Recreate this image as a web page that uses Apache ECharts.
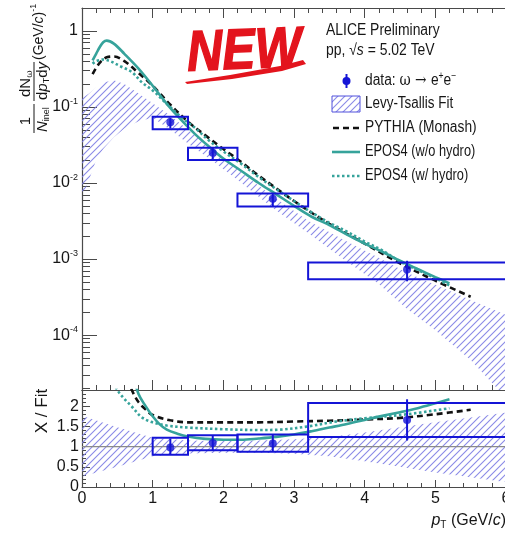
<!DOCTYPE html>
<html>
<head>
<meta charset="utf-8">
<script src="https://cdn.jsdelivr.net/npm/echarts@6/dist/echarts.min.js"></script>
<style>
  html, body { margin: 0; padding: 0; background: #fff; }
  #chart { width: 505px; height: 533px; }
</style>
</head>
<body>
<div id="chart"></div>
<script>
// ---- measured omega -> e+e- spectrum (pT bins, yields, uncertainties) ----
const binLo = [1.0, 1.5, 2.2, 3.2];
const binHi = [1.5, 2.2, 3.2, 6.0];
const omegaPt = [1.25, 1.85, 2.7, 4.6];
const omegaYield = [0.063, 0.025, 0.0062, 0.00073];
const omegaStatLo = [0.052, 0.020, 0.0049, 0.00051];
const omegaStatHi = [0.072, 0.029, 0.0073, 0.00095];
const omegaSysLo = [0.051, 0.0201, 0.0049, 0.000545];
const omegaSysHi = [0.0745, 0.029, 0.0073, 0.000905];

// ---- data / fit ratio ----
const ratioVal = [0.98, 1.09, 1.075, 1.66];
const ratioStatLo = [0.80, 0.91, 0.87, 1.15];
const ratioStatHi = [1.20, 1.28, 1.30, 2.17];
const ratioSysLo = [0.80, 0.91, 0.87, 1.24];
const ratioSysHi = [1.22, 1.28, 1.30, 2.08];

// ---- Levy-Tsallis fit uncertainty band ----
const fitBandPt = [0.0, 0.1, 0.2, 0.3, 0.45, 0.6, 0.8, 1.0, 1.25, 1.5, 1.85, 2.2, 2.7, 3.2, 3.7, 4.2, 4.6, 5.0, 5.5, 6.0];
const fitBandHi = [0.13, 0.15, 0.18, 0.21, 0.225, 0.20, 0.15, 0.112, 0.077, 0.050, 0.027, 0.015, 0.0067, 0.0032, 0.0018, 0.00104, 0.00066, 0.00046, 0.00029, 0.000185];
const fitBandLo = [0.0065, 0.011, 0.02, 0.028, 0.04, 0.052, 0.065, 0.072, 0.05, 0.033, 0.0195, 0.011, 0.0047, 0.0022, 0.001, 0.00047, 0.00022, 0.000116, 0.000047, 0.000015];
const ratioBandPt = [0, 0.5, 1.0, 1.5, 2.0, 2.5, 3.0, 3.5, 4.0, 4.5, 5.0, 5.5, 6.0];
const ratioBandHi = [1.76, 1.48, 1.22, 1.15, 1.14, 1.15, 1.18, 1.24, 1.35, 1.48, 1.60, 1.72, 1.84];
const ratioBandLo = [0.26, 0.50, 0.76, 0.83, 0.85, 0.85, 0.82, 0.76, 0.64, 0.50, 0.36, 0.24, 0.12];

// ---- model predictions ----
const pythiaPt = [0.15, 0.25, 0.35, 0.45, 0.6, 0.8, 1.0, 1.25, 1.5, 1.75, 2.0, 2.25, 2.5, 2.75, 3.0, 3.5, 4.0, 4.5, 5.0, 5.5];
const pythiaY = [0.27, 0.38, 0.45, 0.46, 0.40, 0.28, 0.19, 0.107, 0.064, 0.042, 0.028, 0.019, 0.0125, 0.0085, 0.0058, 0.0029, 0.0016, 0.00088, 0.00052, 0.00032];
const eposPt = [0.15, 0.2, 0.25, 0.3, 0.35, 0.45, 0.6, 0.8, 1.0, 1.2, 1.4, 1.6, 1.8, 2.0, 2.25, 2.5, 2.75, 3.0, 3.25, 3.5, 3.75, 4.0, 4.25, 4.5, 4.75, 5.0, 5.2];
const eposY = [0.41, 0.50, 0.61, 0.71, 0.745, 0.68, 0.50, 0.32, 0.19, 0.11, 0.068, 0.044, 0.030, 0.021, 0.0145, 0.0100, 0.0071, 0.0050, 0.0036, 0.0028, 0.0021, 0.0016, 0.00125, 0.00095, 0.00074, 0.00058, 0.00048];
const eposHydroPt = [0.15, 0.2, 0.3, 0.4, 0.55, 0.7, 0.85, 1.0, 1.2, 1.4, 1.6, 1.8, 2.0, 2.25, 2.5, 2.75, 3.0, 3.25, 3.5, 3.75, 4.0, 4.25, 4.5, 4.75, 5.0, 5.2];
const eposHydroY = [0.37, 0.40, 0.42, 0.40, 0.34, 0.29, 0.21, 0.165, 0.11, 0.074, 0.053, 0.036, 0.026, 0.018, 0.012, 0.0083, 0.0058, 0.0041, 0.0030, 0.0023, 0.0017, 0.0013, 0.00093, 0.00072, 0.00056, 0.00045];

const pythiaRatioPt = [0.6, 0.7, 0.8, 0.9, 1.0, 1.25, 1.5, 2.0, 2.5, 3.0, 3.5, 4.0, 4.5, 5.0, 5.5];
const pythiaRatio = [2.9, 2.42, 2.1, 1.92, 1.78, 1.65, 1.60, 1.60, 1.60, 1.62, 1.64, 1.67, 1.71, 1.80, 1.91];
const eposRatioPt = [0.72, 0.8, 0.9, 1.0, 1.1, 1.2, 1.35, 1.5, 1.75, 2.0, 2.25, 2.5, 2.75, 3.0, 3.25, 3.5, 3.75, 4.0, 4.25, 4.5, 4.75, 5.0, 5.2];
const eposRatio = [2.8, 2.3, 2.0, 1.75, 1.55, 1.42, 1.32, 1.25, 1.19, 1.17, 1.17, 1.20, 1.24, 1.30, 1.38, 1.47, 1.56, 1.66, 1.76, 1.85, 1.95, 2.07, 2.17];
const eposHydroRatioPt = [0.42, 0.5, 0.6, 0.7, 0.85, 1.0, 1.2, 1.5, 2.0, 2.5, 2.8, 3.2, 3.6, 4.0, 4.6, 5.2];
const eposHydroRatio = [2.7, 2.4, 2.18, 2.0, 1.72, 1.60, 1.52, 1.47, 1.43, 1.41, 1.42, 1.50, 1.62, 1.70, 1.80, 1.95];

// ---- axis ticks ----
const xTicks = [0, 1, 2, 3, 4, 5, 6];
const logMajorTicks = [1e-4, 1e-3, 1e-2, 1e-1, 1];
const logDecades = [1e-5, 1e-4, 1e-3, 1e-2, 1e-1, 1];
const logMantissas = [2, 3, 4, 5, 6, 7, 8, 9];
const logMinorTicks = [];
logDecades.forEach(d => logMantissas.forEach(m => logMinorTicks.push(+(m * d).toPrecision(3))));
const ratioTicks = [0, 0.5, 1, 1.5, 2];

// ---- styling ----
const FF = '"Liberation Sans", Arial, Helvetica, sans-serif';
const SERIF = '"DejaVu Serif", "Liberation Serif", serif';
const BLUE = '#1414d6';
const TEAL = '#36a39b';
const FRAME = '#4a4a4a';
const TXT = '#161616';
const STAMP = '#e3141d';

const hatchCanvas = (() => {
  const c = document.createElement('canvas');
  c.width = 7; c.height = 7;
  const g = c.getContext('2d');
  g.strokeStyle = 'rgba(125,125,228,0.9)';
  g.lineWidth = 1.1;
  g.beginPath();
  g.moveTo(-1, 8); g.lineTo(8, -1);
  g.moveTo(-1, 1); g.lineTo(1, -1);
  g.moveTo(6, 8); g.lineTo(8, 6);
  g.stroke();
  return c;
})();
const hatchFill = { image: hatchCanvas, repeat: 'repeat' };

const chart = echarts.init(document.getElementById('chart'), null, { renderer: 'canvas' });

function band(xi, yi, xs, hi, lo) {
  return {
    type: 'custom', xAxisIndex: xi, yAxisIndex: yi, z: 1, silent: true, clip: true,
    data: [[xs[0], hi[0]]],
    renderItem(params, api) {
      const pts = [];
      for (let i = 0; i < xs.length; i++) pts.push(api.coord([xs[i], hi[i]]));
      for (let i = xs.length - 1; i >= 0; i--) pts.push(api.coord([xs[i], lo[i]]));
      const cs = params.coordSys;
      return {
        type: 'polygon', shape: { points: pts },
        style: { fill: hatchFill, stroke: null },
        clipPath: { type: 'rect', shape: { x: cs.x, y: cs.y, width: cs.width, height: cs.height } }
      };
    }
  };
}

function boxes(xi, yi, lo, hi, ylo, yhi) {
  return {
    type: 'custom', xAxisIndex: xi, yAxisIndex: yi, z: 5, silent: true, clip: true,
    encode: { x: [0, 1], y: [2, 3] },
    data: lo.map((v, i) => [v, hi[i], ylo[i], yhi[i]]),
    renderItem(params, api) {
      const a = api.coord([api.value(0), api.value(3)]);
      const b = api.coord([api.value(1), api.value(2)]);
      const cs = params.coordSys;
      return {
        type: 'rect', shape: { x: a[0], y: a[1], width: b[0] - a[0], height: b[1] - a[1] },
        style: { fill: null, stroke: BLUE, lineWidth: 2 },
        clipPath: { type: 'rect', shape: { x: cs.x, y: cs.y, width: cs.width, height: cs.height } }
      };
    }
  };
}

function errBars(xi, yi, xs, lo, hi) {
  return {
    type: 'custom', xAxisIndex: xi, yAxisIndex: yi, z: 6, silent: true,
    encode: { x: 0, y: [1, 2] },
    data: xs.map((v, i) => [v, lo[i], hi[i]]),
    renderItem(params, api) {
      const a = api.coord([api.value(0), api.value(1)]);
      const b = api.coord([api.value(0), api.value(2)]);
      return { type: 'line', shape: { x1: a[0], y1: a[1], x2: b[0], y2: b[1] }, style: { stroke: BLUE, lineWidth: 2 } };
    }
  };
}

function points(xi, yi, xs, ys) {
  return {
    type: 'scatter', xAxisIndex: xi, yAxisIndex: yi, z: 7, silent: true,
    symbol: 'circle', symbolSize: 8, itemStyle: { color: BLUE },
    data: xs.map((v, i) => [v, ys[i]])
  };
}

function curve(xi, yi, xs, ys, color, type, width) {
  return {
    type: 'line', xAxisIndex: xi, yAxisIndex: yi, z: 3, silent: true,
    showSymbol: false, symbol: 'none', smooth: 0.35, clip: true,
    lineStyle: { color, width, type, cap: 'butt' },
    data: xs.map((v, i) => [v, ys[i]])
  };
}

const tickStyle = { color: FRAME, width: 1 };
const lineStyle = { color: FRAME, width: 1.2 };

function xAxisDef(grid, pos, major, minor, labels) {
  return {
    gridIndex: grid, type: 'value', min: 0, max: 6, interval: 1, position: pos,
    axisLine: { show: true, onZero: false, lineStyle },
    axisTick: { show: major > 0, inside: true, length: major, lineStyle: tickStyle },
    minorTick: { show: minor > 0, splitNumber: 5, length: minor, lineStyle: tickStyle },
    axisLabel: labels ? {
      show: true, customValues: xTicks, margin: 4, color: TXT,
      fontFamily: FF, fontSize: 16
    } : { show: false },
    splitLine: { show: false }
  };
}

const option = {
  animation: false,
  backgroundColor: '#fff',
  grid: [
    { left: 82, top: 8, width: 424, height: 382, containLabel: false, outerBoundsMode: 'none' },
    { left: 82, top: 390, width: 424, height: 97, containLabel: false, outerBoundsMode: 'none' }
  ],
  xAxis: [
    xAxisDef(0, 'bottom', 10, 5, false),
    xAxisDef(0, 'top', 10, 5, false),
    xAxisDef(1, 'bottom', 7, 4, true),
    xAxisDef(1, 'top', 0, 0, false)
  ],
  yAxis: [
    {
      gridIndex: 0, type: 'log', logBase: 10, min: 1.9e-5, max: 2, position: 'left',
      axisLine: { show: true, lineStyle },
      axisTick: { show: true, inside: true, length: 15, customValues: logMajorTicks, lineStyle: tickStyle },
      axisLabel: {
        show: true, customValues: logMajorTicks, margin: 4, color: TXT,
        formatter: v => {
          const e = Math.round(Math.log10(v));
          return e === 0 ? '{b|1}' : '{b|10}{s|-' + (-e) + '}';
        },
        rich: {
          b: { fontFamily: FF, fontSize: 16, color: TXT },
          s: { fontFamily: FF, fontSize: 9, color: TXT, padding: [0, 0, 11, 0] }
        }
      },
      splitLine: { show: false }
    },
    {
      gridIndex: 0, type: 'log', logBase: 10, min: 1.9e-5, max: 2, position: 'left',
      axisLine: { show: false },
      axisTick: { show: true, inside: true, length: 8, customValues: logMinorTicks, lineStyle: tickStyle },
      axisLabel: { show: false },
      splitLine: { show: false }
    },
    {
      gridIndex: 1, type: 'value', min: 0, max: 2.4, interval: 0.5, position: 'left',
      axisLine: { show: true, lineStyle },
      axisTick: { show: true, inside: true, length: 8, lineStyle: tickStyle },
      minorTick: { show: true, splitNumber: 5, length: 4, lineStyle: tickStyle },
      axisLabel: {
        show: true, customValues: ratioTicks, margin: 3, color: TXT, fontFamily: FF, fontSize: 16,
        formatter: v => String(v)
      },
      splitLine: { show: false }
    }
  ],
  series: [
    // upper panel: spectrum
    band(0, 0, fitBandPt, fitBandHi, fitBandLo),
    curve(0, 0, pythiaPt, pythiaY, '#111', [6, 4], 2.6),
    curve(0, 0, eposHydroPt, eposHydroY, TEAL, [2.5, 2.5], 2.6),
    curve(0, 0, eposPt, eposY, TEAL, 'solid', 2.6),
    boxes(0, 0, binLo, binHi, omegaSysLo, omegaSysHi),
    errBars(0, 0, omegaPt, omegaStatLo, omegaStatHi),
    points(0, 0, omegaPt, omegaYield),
    // lower panel: ratio to fit
    band(2, 2, ratioBandPt, ratioBandHi, ratioBandLo),
    {
      type: 'line', xAxisIndex: 2, yAxisIndex: 2, z: 2, silent: true, symbol: 'none',
      lineStyle: { color: '#8a8a8a', width: 1.2 }, data: [[0, 1], [6, 1]]
    },
    curve(2, 2, pythiaRatioPt, pythiaRatio, '#111', [6, 4], 2.6),
    curve(2, 2, eposHydroRatioPt, eposHydroRatio, TEAL, [2.5, 2.5], 2.6),
    curve(2, 2, eposRatioPt, eposRatio, TEAL, 'solid', 2.6),
    boxes(2, 2, binLo, binHi, ratioSysLo, ratioSysHi),
    errBars(2, 2, omegaPt, ratioStatLo, ratioStatHi),
    points(2, 2, omegaPt, ratioVal)
  ],
  graphic: [
    // y-axis title of the spectrum panel, written along the axis
    {
      type: 'group', x: 37, y: 134, rotation: Math.PI / 2, silent: true,
      children: [
        { type: 'text', x: 13, y: -11, style: { text: '1', font: `15px ${FF}`, fill: TXT, align: 'center', verticalAlign: 'middle' } },
        { type: 'line', shape: { x1: 1, y1: -3, x2: 30, y2: -3 }, style: { stroke: TXT, lineWidth: 1 } },
        { type: 'text', x: 2, y: 6, style: {
            text: '{n|N}{s|inel}', fill: TXT, verticalAlign: 'middle',
            rich: { n: { font: `italic 15px ${FF}` }, s: { font: `9px ${FF}`, padding: [7, 0, 0, 0] } } } },
        { type: 'text', x: 37, y: -11, style: {
            text: '{r|dN}{s|\u03c9}', fill: TXT, verticalAlign: 'middle',
            rich: { r: { font: `15px ${FF}` }, s: { font: `9px ${SERIF}`, padding: [7, 0, 0, 0] } } } },
        { type: 'line', shape: { x1: 33, y1: -3, x2: 72, y2: -3 }, style: { stroke: TXT, lineWidth: 1 } },
        { type: 'text', x: 34, y: 6, style: {
            text: '{r|d}{i|p}{s|T}{r|d}{i|y}', fill: TXT, verticalAlign: 'middle',
            rich: { r: { font: `15px ${FF}` }, i: { font: `italic 15px ${FF}` }, s: { font: `9px ${FF}`, padding: [7, 0, 0, 0] } } } },
        { type: 'text', x: 74, y: 2, style: {
            text: '{r|(GeV/}{i|c}{r|)}{p|-1}', fill: TXT, verticalAlign: 'middle',
            rich: { r: { font: `14px ${FF}` }, i: { font: `italic 14px ${FF}` }, p: { font: `9px ${FF}`, padding: [0, 0, 11, 0] } } } }
      ]
    },
    // y-axis title of the ratio panel
    { type: 'text', x: 42, y: 411, rotation: Math.PI / 2, silent: true,
      style: { text: 'X / Fit', font: `17px ${FF}`, fill: TXT, align: 'center', verticalAlign: 'middle' } },
    // x-axis title
    { type: 'text', x: 506, y: 521, silent: true,
      style: {
        text: '{i|p}{s|T}{r| (GeV/}{i|c}{r|)}', align: 'right', verticalAlign: 'middle', fill: TXT,
        rich: { i: { font: `italic 16px ${FF}` }, r: { font: `16px ${FF}` }, s: { font: `10px ${FF}`, padding: [8, 0, 0, 0] } }
      } },
    // header lines
    { type: 'text', x: 326, y: 31, scaleX: 0.87, silent: true,
      style: { text: 'ALICE Preliminary', font: `16px ${FF}`, fill: TXT, verticalAlign: 'middle' } },
    { type: 'text', x: 326, y: 51, scaleX: 0.87, silent: true,
      style: { text: '{r|pp, \u221a}{i|s}{r| = 5.02 TeV}', fill: TXT, verticalAlign: 'middle',
        rich: { r: { font: `16px ${FF}` }, i: { font: `italic 16px ${FF}` } } } },
    // legend entries
    { type: 'line', shape: { x1: 346.5, y1: 74, x2: 346.5, y2: 88 }, style: { stroke: BLUE, lineWidth: 2 } },
    { type: 'circle', shape: { cx: 346.5, cy: 81, r: 4 }, style: { fill: BLUE } },
    { type: 'text', x: 365, y: 81, scaleX: 0.86, silent: true,
      style: { text: '{r|data: }{g|\u03c9 \u2192 }{r|e}{p|+}{r|e}{p|\u2212}', fill: TXT, verticalAlign: 'middle',
        rich: { r: { font: `16px ${FF}` }, g: { font: `16px ${SERIF}` }, p: { font: `10px ${FF}`, padding: [0, 0, 10, 0] } } } },
    { type: 'rect', shape: { x: 332, y: 96, width: 28, height: 16 }, style: { fill: hatchFill, stroke: '#5050dc', lineWidth: 1 } },
    { type: 'text', x: 365, y: 104, scaleX: 0.84, silent: true,
      style: { text: 'Levy-Tsallis Fit', font: `16px ${FF}`, fill: TXT, verticalAlign: 'middle' } },
    { type: 'line', shape: { x1: 333, y1: 128, x2: 361, y2: 128 }, style: { stroke: '#111', lineWidth: 2.6, lineDash: [6, 4] } },
    { type: 'text', x: 365, y: 128, scaleX: 0.86, silent: true,
      style: { text: 'PYTHIA (Monash)', font: `16px ${FF}`, fill: TXT, verticalAlign: 'middle' } },
    { type: 'line', shape: { x1: 332, y1: 152, x2: 360, y2: 152 }, style: { stroke: TEAL, lineWidth: 2.6 } },
    { type: 'text', x: 365, y: 152, scaleX: 0.8, silent: true,
      style: { text: 'EPOS4 (w/o hydro)', font: `16px ${FF}`, fill: TXT, verticalAlign: 'middle' } },
    { type: 'line', shape: { x1: 332, y1: 176, x2: 360, y2: 176 }, style: { stroke: TEAL, lineWidth: 2.6, lineDash: [2.5, 2.5] } },
    { type: 'text', x: 365, y: 176, scaleX: 0.8, silent: true,
      style: { text: 'EPOS4 (w/ hydro)', font: `16px ${FF}`, fill: TXT, verticalAlign: 'middle' } },
    // "NEW" stamp
    { type: 'text', x: 187, y: 55, scaleX: 0.86, rotation: 0.04, silent: true,
      style: { text: 'NEW', font: `italic bold 57px ${FF}`, fill: STAMP, stroke: STAMP, lineWidth: 1.5, verticalAlign: 'middle' } },
    { type: 'polygon', silent: true,
      shape: { points: [[185, 82], [230, 75], [280, 66], [303, 60], [306, 64], [282, 71], [232, 79], [187, 84]] },
      style: { fill: STAMP } }
  ]
};

chart.setOption(option);
</script>
</body>
</html>
